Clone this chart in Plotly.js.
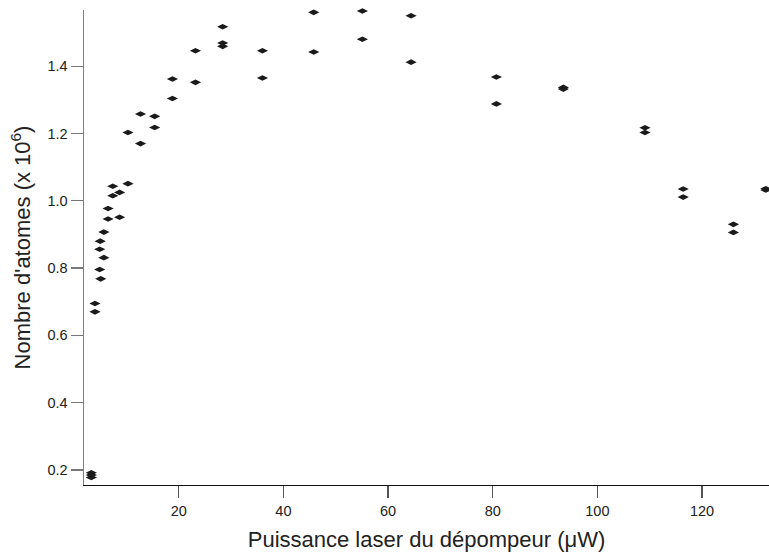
<!DOCTYPE html>
<html>
<head>
<meta charset="utf-8">
<script src="https://cdn.plot.ly/plotly-3.0.1.min.js"></script>
<style>html,body{margin:0;padding:0;background:#fff;}#chart{width:769px;height:556px;}</style>
</head>
<body>
<div id="chart"></div>
<script>
const power = [3.3,3.3,3.3, 4.0,4.0, 4.9,4.9, 5.1,5.0, 5.7,5.7, 6.5,6.5, 7.4,7.4, 8.7,8.7, 10.3,10.3, 12.7,12.7, 15.4,15.4, 18.8,18.8, 23.2,23.2, 28.4,28.4,28.4, 36.0,36.0, 45.8,45.8, 55.1,55.1, 64.4,64.4, 80.7,80.7, 93.5,93.5, 109.1,109.1, 116.4,116.4, 126.0,126.0, 132.2,132.2];
const atoms = [0.192,0.185,0.178, 0.695,0.670, 0.856,0.796, 0.768,0.880, 0.907,0.831, 0.977,0.946, 1.043,1.015, 1.025,0.951, 1.203,1.051, 1.258,1.170, 1.251,1.218, 1.362,1.304, 1.446,1.352, 1.517,1.469,1.459, 1.446,1.365, 1.560,1.442, 1.564,1.480, 1.550,1.412, 1.368,1.288, 1.337,1.332, 1.217,1.203, 1.035,1.011, 0.930,0.906, 1.036,1.032];
const xTicks = [20,40,60,80,100,120];
const yTicks = [0.2,0.4,0.6,0.8,1.0,1.2,1.4];
const yTickText = ['0.2','0.4','0.6','0.8','1.0','1.2','1.4'];
const xTitle = 'Puissance laser du dépompeur (μW)';
const yTitle = "Nombre d'atomes (x 10<sup>6</sup>)";

const font = 'Liberation Sans, Arial, Helvetica, sans-serif';
const trace = {
  x: power, y: atoms, type: 'scatter', mode: 'markers',
  cliponaxis: false,
  marker: {symbol: 'diamond-wide', size: 8, color: '#1a1a1a', line: {width: 0}},
  hoverinfo: 'x+y'
};
const layout = {
  width: 769, height: 556,
  margin: {l: 84, r: 0, t: 10, b: 71, pad: 0},
  paper_bgcolor: '#ffffff', plot_bgcolor: '#ffffff',
  showlegend: false,
  font: {family: font, color: '#222'},
  xaxis: {
    range: [1.9, 132.8], tickvals: xTicks, ticks: 'outside', ticklen: 12, tickwidth: 1.2,
    tickcolor: '#555', showline: true, linecolor: '#111', linewidth: 1.2,
    showgrid: false, zeroline: false, tickfont: {size: 14.5, family: font, color: '#222'},
    title: {text: xTitle, font: {size: 22, family: font, color: '#222'}, standoff: 14}
  },
  yaxis: {
    range: [0.1554, 1.567], tickvals: yTicks, ticktext: yTickText, ticks: 'outside', ticklen: 12, tickwidth: 1.2,
    tickcolor: '#777', showline: true, linecolor: '#808080', linewidth: 1.5,
    showgrid: false, zeroline: false, tickfont: {size: 14.5, family: font, color: '#222'},
    title: {text: yTitle, font: {size: 22, family: font, color: '#222'}, standoff: 10}
  }
};
Plotly.newPlot('chart', [trace], layout, {displayModeBar: false, staticPlot: true});
</script>
</body>
</html>
